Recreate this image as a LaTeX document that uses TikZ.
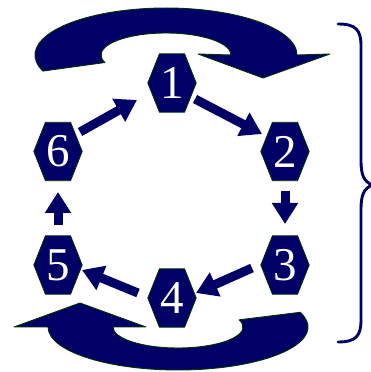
\documentclass[tikz,border=0pt]{standalone}
\usepackage{fontspec}
\setmainfont{Liberation Serif}
\usetikzlibrary{arrows.meta,calc,backgrounds}
\definecolor{navy}{RGB}{0,0,102}
\definecolor{edgegreen}{RGB}{0,51,0}
\tikzset{
  x=1pt,y=1pt,
  hexnode/.style={inner sep=0pt, minimum width=48pt, minimum height=58pt, text=white,
    font=\fontsize{47}{47}\selectfont},
  hexfill/.style={fill=navy, draw=edgegreen, line width=0.8pt},
  blockarrow/.style={draw=navy, line width=9pt,
    -{Triangle[length=21pt,width=25pt]}, navy},
  bigarrow/.style={fill=navy, draw=edgegreen, line width=0.9pt, line join=round},
  bracestyle/.style={draw=navy, line width=2.9pt, line cap=round}
}
\begin{document}
\begin{tikzpicture}
\useasboundingbox (0,0) rectangle (371,372);
% hexagon nodes
\node[hexnode] (n1) at (172,289) {1};
\node[hexnode] (n2) at (285,220.5) {2};
\node[hexnode] (n3) at (285,107) {3};
\node[hexnode] (n4) at (172,74) {4};
\node[hexnode] (n5) at (58,107) {5};
\node[hexnode] (n6) at (58,220.5) {6};
\begin{scope}[on background layer]
\foreach \n in {n1,n2,n3,n4,n5,n6}{
  \path[hexfill] (\n.west) -- ($(\n.north west)!0.24!(\n.north east)$)
    -- ($(\n.north west)!0.76!(\n.north east)$) -- (\n.east)
    -- ($(\n.south west)!0.76!(\n.south east)$)
    -- ($(\n.south west)!0.24!(\n.south east)$) -- cycle;
}
\end{scope}
% connectors
\draw[blockarrow] ($(n6.center)+(22,19.5)$) -- ($(n1.center)+(-35,-17)$);
\draw[blockarrow] ($(n1.center)+(23,-16)$) -- ($(n2.center)+(-23,17.5)$);
\draw[blockarrow] ($(n2.center)+(0,-39.5)$) -- ($(n3.center)+(0,41)$);
\draw[blockarrow] ($(n3.center)+(-33,-3)$) -- ($(n4.center)+(24,5)$);
\draw[blockarrow] ($(n4.center)+(-34,5)$) -- ($(n5.center)+(24,-5)$);
\draw[blockarrow] ($(n5.center)+(0,40)$) -- ($(n6.center)+(0,-40.5)$);
% top curved arrow
\path[bigarrow] (166,317) ++(200:131 and 47)
  arc[start angle=200, end angle=0, x radius=131, y radius=47]
  -- (330,318) -- (263,294) -- (198,318) -- (231,317)
  arc[start angle=0, end angle=200, x radius=65, y radius=22]
  -- cycle;
% bottom curved arrow
\path[bigarrow] (178,45) ++(20:130 and 43)
  arc[start angle=20, end angle=-180, x radius=130, y radius=43]
  -- (14,45) -- (80,69) -- (146,45) -- (113,45)
  arc[start angle=180, end angle=380, x radius=65, y radius=21]
  -- cycle;
% brace
\draw[bracestyle] (338,348) .. controls (356,348) and (361,342) .. (361,326)
  -- (361,212) .. controls (361,196) and (364,191) .. (372,187)
  .. controls (364,183) and (361,178) .. (361,162)
  -- (361,52) .. controls (361,36) and (356,30) .. (338,30);
\end{tikzpicture}
\end{document}
